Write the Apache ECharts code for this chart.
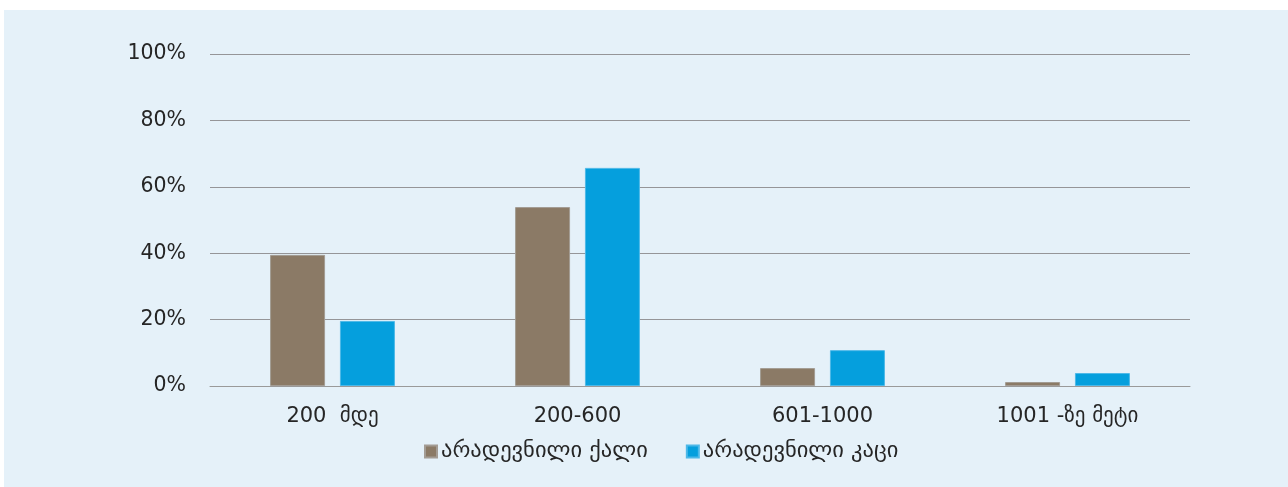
<!DOCTYPE html>
<html>
<head>
<meta charset="utf-8">
<script src="https://cdn.jsdelivr.net/npm/echarts@6/dist/echarts.min.js"></script>
<style>
html,body{margin:0;padding:0;background:#ffffff;width:1288px;height:487px;overflow:hidden;}
#bg{position:absolute;left:4px;top:10px;width:1284px;height:477px;background:#E5F1F9;}
#chart{position:absolute;left:0;top:0;width:1288px;height:487px;}
</style>
</head>
<body>
<div id="bg"></div>
<div id="chart"></div>
<script>
const categories = ['200  მდე', '200-600', '601-1000', '1001 -ზე მეტი'];
const seriesNames = ['არადევნილი ქალი', 'არადევნილი კაცი'];
const femaleValues = [39.5, 53.9, 5.4, 1.2];
const maleValues = [19.6, 65.7, 10.8, 3.9];
const yTicks = [0, 20, 40, 60, 80, 100];

const font = 'DejaVu Sans';
const chart = echarts.init(document.getElementById('chart'), null, {renderer: 'canvas'});
chart.setOption({
  backgroundColor: 'transparent',
  animation: false,
  textStyle: {fontFamily: font},
  grid: {left: 210, right: 98, top: 54, bottom: 101, containLabel: false},
  legend: {
    data: seriesNames,
    bottom: 19,
    left: 419,
    itemWidth: 12,
    itemHeight: 12,
    itemGap: 38,
    icon: 'rect',
    textStyle: {fontFamily: font, fontSize: 22.5, color: '#262626', padding: [0, 0, 0, -1]}
  },
  xAxis: {
    type: 'category',
    data: categories,
    axisLine: {show: true, lineStyle: {color: '#9a9a9a', width: 1}},
    axisTick: {show: false},
    axisLabel: {fontFamily: font, fontSize: 21, color: '#262626', margin: 20}
  },
  yAxis: {
    type: 'value',
    min: yTicks[0],
    max: yTicks[yTicks.length - 1],
    interval: 20,
    axisLine: {show: false},
    axisTick: {show: false},
    splitLine: {lineStyle: {color: '#959598', width: 1}},
    axisLabel: {fontFamily: font, fontSize: 20.5, color: '#262626', margin: 24, verticalAlign: 'middle', lineHeight: 20, padding: [7, 0, 0, 0], formatter: v => v + '%'}
  },
  series: [
    {
      name: seriesNames[0],
      type: 'bar',
      data: femaleValues,
      barWidth: 55,
      barGap: '27%',
      itemStyle: {color: '#8B7A66', borderColor: '#A39C94', borderWidth: 1}
    },
    {
      name: seriesNames[1],
      type: 'bar',
      data: maleValues,
      barWidth: 55,
      itemStyle: {color: '#059FDD', borderColor: '#4DB8E8', borderWidth: 1}
    }
  ]
});
</script>
</body>
</html>
